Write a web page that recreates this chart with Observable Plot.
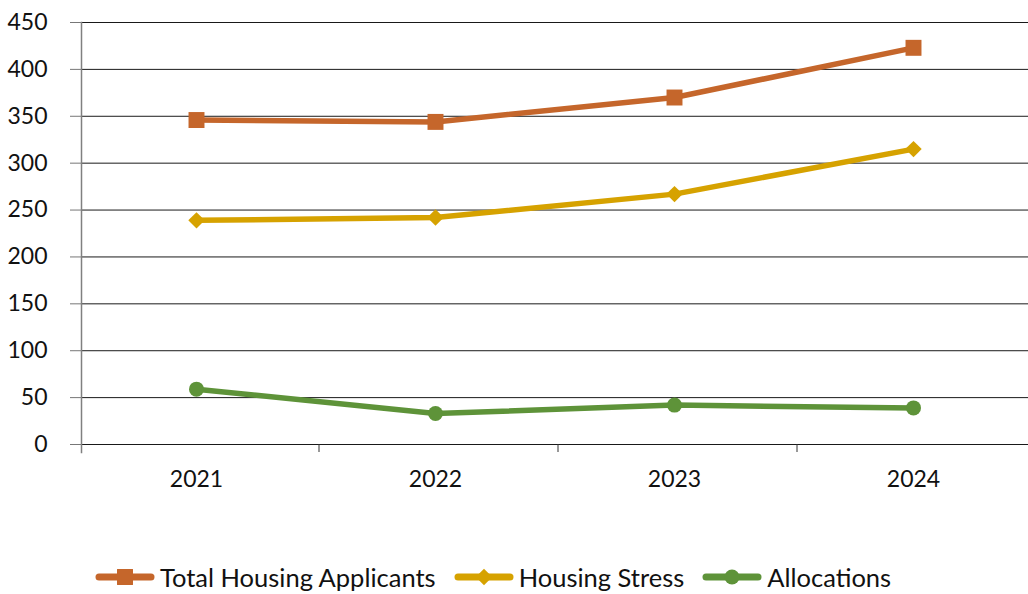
<!DOCTYPE html>
<html>
<head>
<meta charset="utf-8">
<script src="https://cdn.jsdelivr.net/npm/d3@7"></script>
<script src="https://cdn.jsdelivr.net/npm/@observablehq/plot@0.6"></script>
<style>
  html, body { margin: 0; padding: 0; background: #fff; }
  body { width: 1028px; font-family: Lato, "Noto Sans", sans-serif; }
  #legend { display: flex; justify-content: flex-start; align-items: center; margin-top: 63px; padding-left: 95px; font-size: 25.5px; line-height: 28px; color: #111; }
  .item { display: flex; align-items: center; margin-right: 18px; }
  .item svg { margin-right: 5px; }
</style>
</head>
<body>
<div id="chart"></div>
<div id="legend"></div>
<script>
const years = [2021, 2022, 2023, 2024];
const seriesNames = ["Total Housing Applicants", "Housing Stress", "Allocations"];
const totalApplicants = [346, 344, 370, 423];
const housingStress = [239, 242, 267, 315];
const allocations = [59, 33, 42, 39];
const yTicks = [0, 50, 100, 150, 200, 250, 300, 350, 400, 450];
const colors = ["#C5662B", "#D6A200", "#5E9339"];
const symbols = ["square", "diamond2", "circle"];
const radii = [9, 7.4, 7.5];

const seriesValues = [totalApplicants, housingStress, allocations];
const data = seriesValues.flatMap((vals, i) => vals.map((v, j) => ({series: seriesNames[i], year: years[j], value: v})));
const boundaries = years.slice(0, -1).map(y => y + 0.5);

const font = "Lato, 'Noto Sans', sans-serif";
const chart = Plot.plot({
  width: 1028,
  height: 500,
  marginLeft: 81,
  marginRight: 0,
  marginTop: 22,
  marginBottom: 56,
  style: {fontFamily: font, fontSize: "23px", color: "#111", background: "#fff"},
  x: {domain: [years[0] - 0.5, years[years.length - 1] + 0.5], range: [76.5, 1032.5]},
  y: {domain: [0, 450]},
  color: {domain: seriesNames, range: colors},
  symbol: {domain: seriesNames, range: symbols},
  marks: [
    Plot.gridY(yTicks, {stroke: "#000", strokeOpacity: 0.9, strokeWidth: 1}),
    Plot.axisY(yTicks, {tickSize: 11, tickPadding: 23, stroke: "#777", fontSize: 23, label: null}),
    Plot.frame({anchor: "left", stroke: "#808080", strokeWidth: 1.5, insetBottom: -8}),
    Plot.axisX(boundaries, {tickSize: 8, tickFormat: () => "", stroke: "#333", dx: 3, label: null}),
    Plot.axisX(years, {tickSize: 0, tickPadding: 26, tickFormat: d3.format("d"), fontSize: 23, label: null}),
    Plot.line(data, {x: "year", y: "value", z: "series", stroke: "series", strokeWidth: 5.5, strokeLinejoin: "round", strokeLinecap: "round"}),
    ...seriesNames.map((s, i) => Plot.dot(data.filter(d => d.series === s), {x: "year", y: "value", symbol: () => s, fill: colors[i], r: radii[i], stroke: "none"}))
  ]
});
document.getElementById("chart").appendChild(chart);

// Legend
const legend = d3.select("#legend");
seriesNames.forEach((s, i) => {
  const item = legend.append("div").attr("class", "item");
  const svg = item.append("svg").attr("width", 60).attr("height", 22);
  svg.append("line").attr("x1", 4).attr("x2", 56).attr("y1", 11).attr("y2", 11)
    .attr("stroke", colors[i]).attr("stroke-width", 7).attr("stroke-linecap", "round");
  const sym = {square: d3.symbolSquare, diamond2: d3.symbolDiamond2, circle: d3.symbolCircle}[symbols[i]];
  svg.append("path").attr("transform", "translate(30,11)")
    .attr("d", d3.symbol(sym, Math.PI * radii[i] * radii[i])()).attr("fill", colors[i]);
  item.append("span").text(s);
});
</script>
</body>
</html>
